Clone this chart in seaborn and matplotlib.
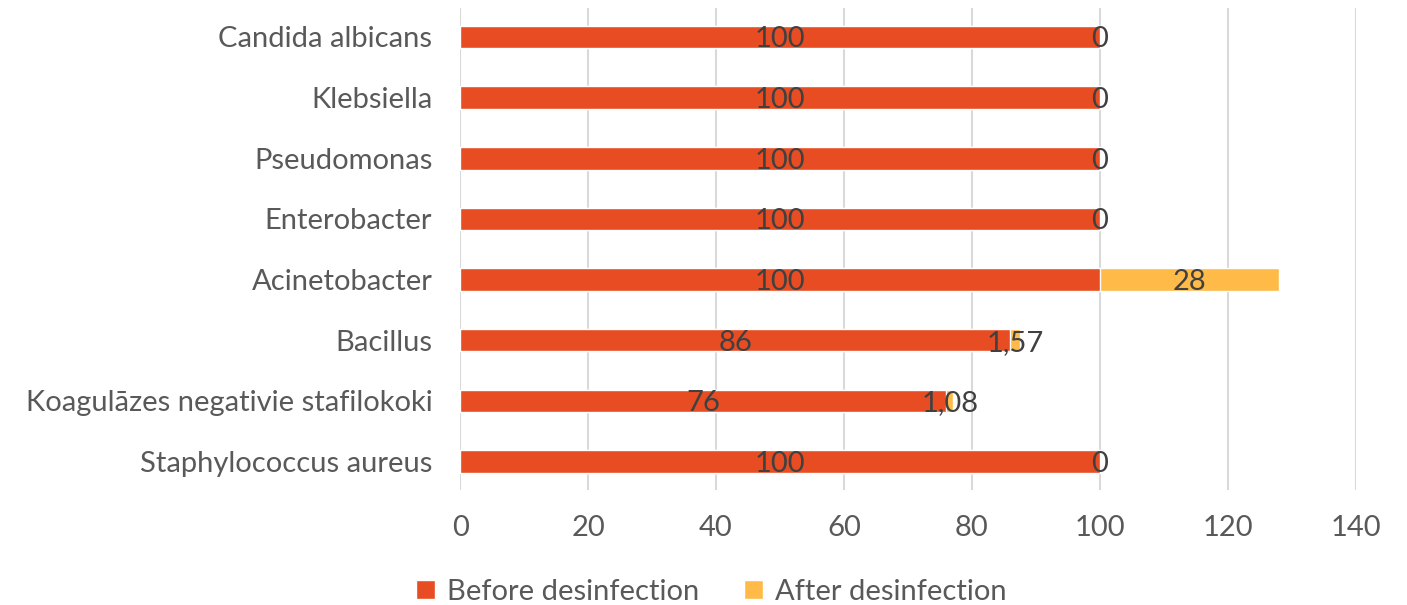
import matplotlib
matplotlib.use("Agg")
import matplotlib.pyplot as plt
import seaborn as sns
import pandas as pd
from matplotlib.patches import Patch

categories = [
    "Candida albicans",
    "Klebsiella",
    "Pseudomonas",
    "Enterobacter",
    "Acinetobacter",
    "Bacillus",
    "Koagulāzes negativie stafilokoki",
    "Staphylococcus aureus",
]
before = [100, 100, 100, 100, 100, 86, 76, 100]
after = [0, 0, 0, 0, 28, 1.57, 1.08, 0]
series_names = ["Before desinfection", "After desinfection"]
x_ticks = [0, 20, 40, 60, 80, 100, 120, 140]

c_before = "#E84C22"
c_after = "#FFBA48"
text_color = "#404040"
tick_color = "#595959"
fs = 21

sns.set_theme(style="white")
plt.rcParams["font.family"] = ["Lato", "DejaVu Sans"]

df = pd.DataFrame({"category": categories, "before": before, "after": after})
df["total"] = df["before"] + df["after"]

fig = plt.figure(figsize=(14.07, 6.05), dpi=100)
ax = fig.add_axes([0.327, 0.19, 0.6367, 0.797])

# stacked bars: total in the "after" colour, "before" drawn over it
sns.barplot(data=df, x="total", y="category", order=categories, color=c_after,
            width=0.37, saturation=1, ax=ax, orient="h", zorder=3)
sns.barplot(data=df, x="before", y="category", order=categories, color=c_before,
            width=0.37, saturation=1, ax=ax, orient="h", zorder=3)

def fmt(v):
    s = f"{v:g}"
    return s.replace(".", ",")

for i, (b, a) in enumerate(zip(before, after)):
    ax.text(b / 2, i, fmt(b), ha="center", va="center_baseline", fontsize=fs,
            color=text_color, zorder=5)
    ax.text(b + a / 2, i, fmt(a), ha="center", va="center_baseline", fontsize=fs,
            color=text_color, zorder=5)

ax.set_xlim(0, 140)
ax.set_ylim(len(categories) - 0.53, -0.48)
ax.set_xticks(x_ticks)
ax.set_xlabel("")
ax.set_ylabel("")
ax.grid(axis="x", color="#D9D9D9", linewidth=1.5, zorder=0)
ax.grid(axis="y", visible=False)
for sp in ax.spines.values():
    sp.set_visible(False)
ax.tick_params(axis="y", length=0, pad=20, labelsize=fs, labelcolor=tick_color)
ax.tick_params(axis="x", length=0, pad=18, labelsize=fs, labelcolor=tick_color)

handles = [Patch(facecolor=c_before, label=series_names[0]),
           Patch(facecolor=c_after, label=series_names[1])]
leg = fig.legend(handles=handles, loc="center", bbox_to_anchor=(0.5057, 0.022),
                 ncol=2, frameon=False, fontsize=fs, handlelength=0.65,
                 handleheight=0.65, handletextpad=0.4, columnspacing=1.55)
for t in leg.get_texts():
    t.set_color(tick_color)

fig.savefig("out.png", dpi=100)
